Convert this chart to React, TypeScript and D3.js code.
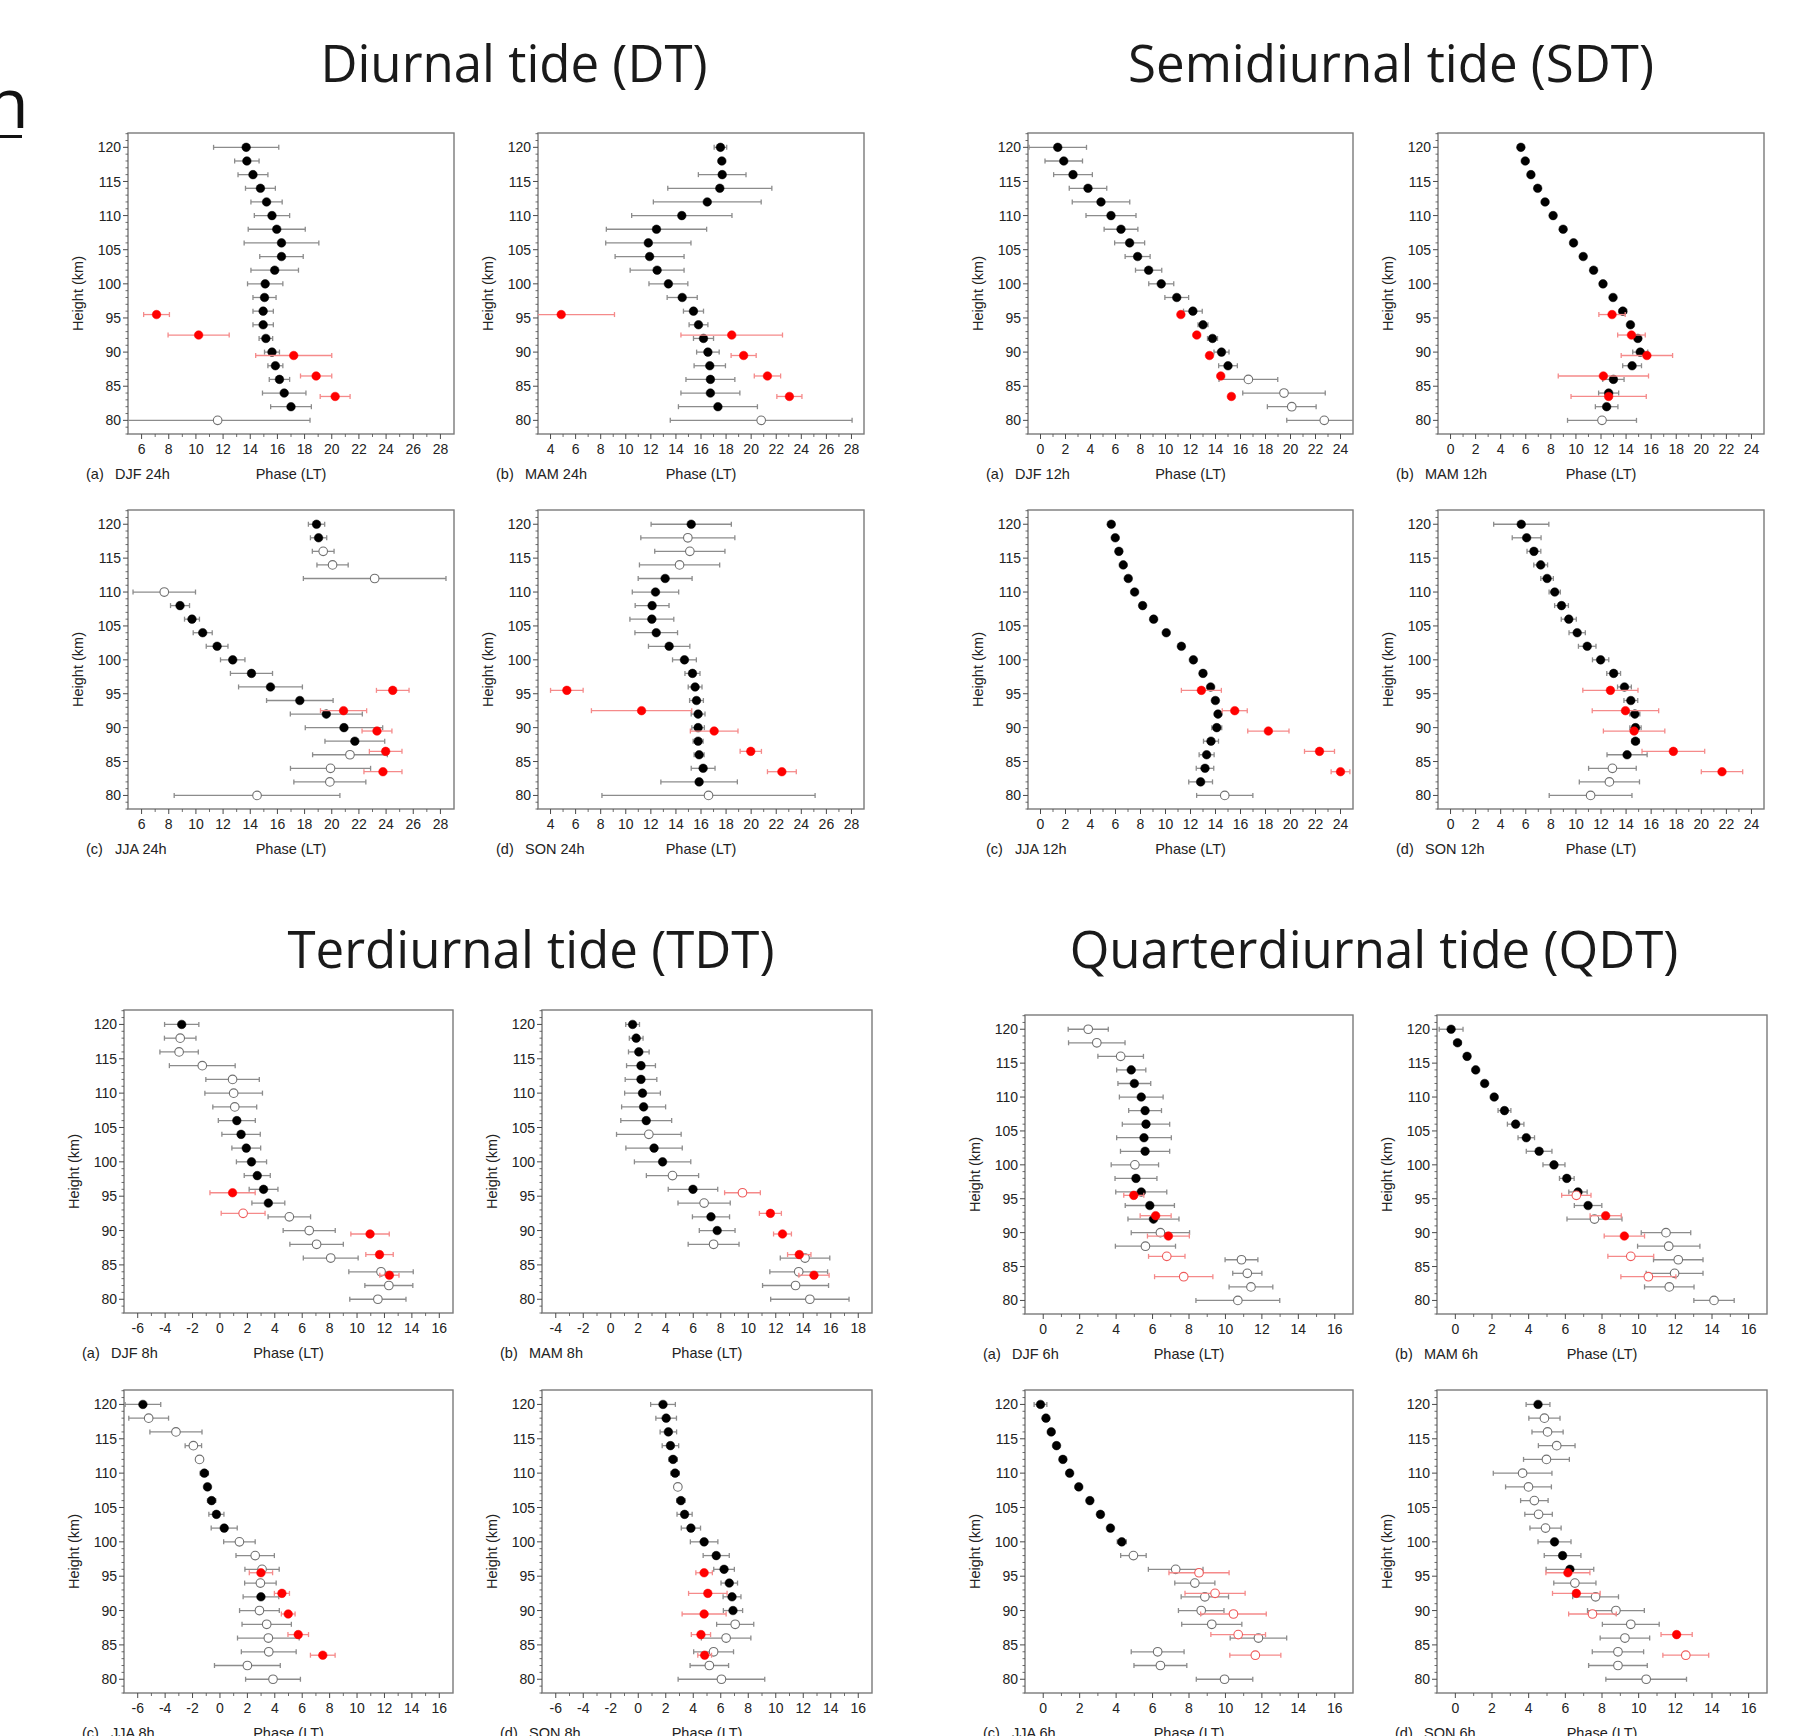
import * as d3 from 'd3';

// heights of the main profile (km) and of the red comparison profile
const heights = [120, 118, 116, 114, 112, 110, 108, 106, 104, 102, 100, 98, 96, 94, 92, 90, 88, 86, 84, 82, 80];
const redHeights = [95.5, 92.5, 89.5, 86.5, 83.5];
const yTicks = [80, 85, 90, 95, 100, 105, 110, 115, 120];

// ---- Diurnal tide (24h) ----
const dtDjfPhase = [13.7, 13.75, 14.2, 14.75, 15.2, 15.6, 15.95, 16.3, 16.3, 15.8, 15.1, 15.05, 14.95, 14.95, 15.15, 15.6, 15.85, 16.15, 16.5, 17.0, 11.6];
const dtDjfErr = [2.4, 0.9, 1.1, 1.1, 1.15, 1.3, 2.1, 2.75, 1.6, 1.75, 1.3, 0.85, 0.75, 0.75, 0.5, 0.55, 0.55, 0.75, 1.6, 1.5, 6.8];
const dtDjfOpen = [80];
const dtDjfRed = [7.1, 10.2, 17.2, 18.85, 20.25];
const dtDjfRedErr = [0.95, 2.25, 2.8, 1.15, 1.1];
const dtDjfRedOpen: number[] = [];

const dtMamPhase = [17.55, 17.66, 17.69, 17.5, 16.5, 14.47, 12.45, 11.8, 11.9, 12.5, 13.4, 14.5, 15.4, 15.8, 16.2, 16.55, 16.7, 16.75, 16.75, 17.35, 20.8];
const dtMamErr = [0.5, 0.2, 1.9, 4.15, 4.3, 4.0, 4.0, 3.4, 2.75, 2.15, 1.55, 1.2, 0.8, 0.75, 0.8, 0.9, 1.25, 1.95, 2.35, 3.15, 7.25];
const dtMamOpen = [80];
const dtMamRed = [4.85, 18.45, 19.4, 21.3, 23.05];
const dtMamRedErr = [4.25, 4.05, 1.0, 1.05, 1.0];
const dtMamRedOpen: number[] = [];

const dtJjaPhase = [18.88, 19.03, 19.37, 20.06, 23.16, 7.67, 8.83, 9.71, 10.5, 11.56, 12.71, 14.09, 15.49, 17.65, 19.6, 20.9, 21.7, 21.34, 19.91, 19.86, 14.5];
const dtJjaErr = [0.6, 0.6, 0.8, 1.15, 5.25, 2.3, 0.7, 0.55, 0.7, 0.8, 0.9, 1.55, 2.35, 2.45, 2.65, 2.85, 2.2, 2.75, 2.95, 2.65, 6.1];
const dtJjaOpen = [116, 114, 112, 110, 86, 84, 82, 80];
const dtJjaRed = [24.49, 20.87, 23.33, 23.97, 23.77];
const dtJjaRedErr = [1.2, 1.7, 1.1, 1.2, 1.4];
const dtJjaRedOpen: number[] = [];

const dtSonPhase = [15.22, 14.95, 15.11, 14.29, 13.14, 12.37, 12.1, 12.08, 12.43, 13.46, 14.68, 15.32, 15.53, 15.64, 15.77, 15.77, 15.77, 15.85, 16.17, 15.85, 16.6];
const dtSonErr = [3.2, 3.75, 2.8, 3.2, 2.15, 1.85, 1.35, 1.75, 1.7, 1.65, 0.95, 0.6, 0.55, 0.55, 0.55, 0.5, 0.4, 0.4, 0.95, 3.05, 8.5];
const dtSonOpen = [118, 116, 114, 80];
const dtSonRed = [5.3, 11.26, 17.05, 19.97, 22.45];
const dtSonRedErr = [1.3, 4.0, 1.9, 0.85, 1.15];
const dtSonRedOpen: number[] = [];

// ---- Semidiurnal tide (12h) ----
const sdtDjfPhase = [1.38, 1.86, 2.6, 3.8, 4.84, 5.64, 6.44, 7.13, 7.77, 8.65, 9.66, 10.9, 12.19, 13.0, 13.76, 14.48, 15.0, 16.63, 19.48, 20.1, 22.7];
const sdtDjfErr = [2.3, 1.5, 1.55, 1.5, 2.3, 2.0, 1.35, 1.2, 1.0, 1.05, 1.0, 0.95, 0.75, 0.4, 0.4, 0.6, 0.75, 2.35, 3.3, 1.95, 3.0];
const sdtDjfOpen = [86, 84, 82, 80];
const sdtDjfRed = [11.23, 12.5, 13.52, 14.42, 15.27];
const sdtDjfRedErr = [0, 0, 0, 0, 0];
const sdtDjfRedOpen: number[] = [];

const sdtMamPhase = [5.61, 5.96, 6.41, 6.95, 7.54, 8.18, 8.98, 9.81, 10.58, 11.41, 12.16, 12.96, 13.74, 14.35, 14.94, 15.13, 14.48, 12.99, 12.61, 12.45, 12.08];
const sdtMamErr = [0, 0, 0, 0, 0, 0, 0, 0, 0, 0, 0, 0, 0.3, 0, 0, 0.6, 0.75, 0.85, 0.8, 0.9, 2.75];
const sdtMamOpen = [80];
const sdtMamRed = [12.88, 14.43, 15.66, 12.19, 12.61];
const sdtMamRedErr = [1.05, 1.1, 2.05, 3.6, 3.0];
const sdtMamRedOpen: number[] = [];

const sdtJjaPhase = [5.66, 5.98, 6.27, 6.62, 7.02, 7.53, 8.17, 9.05, 10.06, 11.27, 12.23, 13.0, 13.61, 13.99, 14.2, 14.1, 13.64, 13.29, 13.16, 12.81, 14.74];
const sdtJjaErr = [0, 0, 0, 0, 0, 0, 0, 0, 0, 0, 0, 0, 0, 0, 0, 0.4, 0.6, 0.6, 0.7, 0.95, 2.25];
const sdtJjaOpen = [80];
const sdtJjaRed = [12.87, 15.54, 18.23, 22.32, 24.0];
const sdtJjaRedErr = [1.6, 1.0, 1.65, 1.2, 0.75];
const sdtJjaRedOpen: number[] = [];

const sdtSonPhase = [5.64, 6.07, 6.65, 7.19, 7.7, 8.31, 8.85, 9.43, 10.1, 10.9, 11.97, 13.01, 13.87, 14.38, 14.7, 14.75, 14.75, 14.08, 12.91, 12.67, 11.17];
const sdtSonErr = [2.2, 1.15, 0.55, 0.55, 0.5, 0.45, 0.55, 0.6, 0.65, 0.7, 0.65, 0.55, 0.55, 0.55, 0.4, 0.45, 0.3, 1.6, 1.9, 2.4, 3.3];
const sdtSonOpen = [84, 82, 80];
const sdtSonRed = [12.75, 13.95, 14.64, 17.77, 21.65];
const sdtSonRedErr = [2.2, 2.65, 2.45, 2.5, 1.65];
const sdtSonRedOpen: number[] = [];

// ---- Terdiurnal tide (8h) ----
const tdtDjfPhase = [-2.79, -2.9, -2.98, -1.29, 0.92, 1.0, 1.08, 1.23, 1.54, 1.92, 2.3, 2.72, 3.18, 3.53, 5.06, 6.51, 7.05, 8.08, 11.75, 12.32, 11.52];
const tdtDjfErr = [1.25, 1.15, 1.4, 2.4, 1.95, 2.1, 1.6, 1.35, 1.4, 1.05, 1.1, 0.95, 1.05, 1.2, 1.55, 1.9, 1.95, 2.0, 2.35, 1.75, 2.05];
const tdtDjfOpen = [118, 116, 114, 112, 110, 108, 92, 90, 88, 86, 84, 82, 80];
const tdtDjfRed = [0.92, 1.69, 10.95, 11.64, 12.36];
const tdtDjfRedErr = [1.65, 1.6, 1.4, 1.0, 0.7];
const tdtDjfRedOpen = [92.5];

const tdtMamPhase = [1.59, 1.85, 2.04, 2.2, 2.2, 2.31, 2.39, 2.58, 2.77, 3.15, 3.77, 4.49, 5.98, 6.79, 7.29, 7.74, 7.48, 14.13, 13.67, 13.44, 14.48];
const tdtMamErr = [0.5, 0.5, 0.75, 1.05, 1.15, 1.3, 1.6, 1.85, 2.35, 2.05, 2.05, 1.9, 1.8, 1.9, 1.35, 1.3, 1.85, 1.8, 2.1, 2.4, 2.85];
const tdtMamOpen = [104, 98, 94, 88, 86, 84, 82, 80];
const tdtMamRed = [9.58, 11.61, 12.49, 13.71, 14.78];
const tdtMamRedErr = [1.3, 0.8, 0.65, 0.85, 1.1];
const tdtMamRedOpen = [95.5];

const tdtJjaPhase = [-5.62, -5.2, -3.21, -1.94, -1.49, -1.14, -0.91, -0.61, -0.26, 0.31, 1.42, 2.57, 3.07, 2.95, 2.99, 2.88, 3.41, 3.53, 3.56, 2.0, 3.87];
const tdtJjaErr = [1.3, 1.45, 1.9, 0.6, 0.2, 0.3, 0, 0.3, 0.55, 0.95, 1.15, 1.4, 1.25, 1.15, 1.3, 1.45, 1.8, 2.25, 2.0, 2.4, 2.0];
const tdtJjaOpen = [118, 116, 114, 112, 100, 98, 96, 94, 90, 88, 86, 84, 82, 80];
const tdtJjaRed = [2.99, 4.52, 4.98, 5.71, 7.5];
const tdtJjaRedErr = [0.85, 0.55, 0.5, 0.75, 0.9];
const tdtJjaRedOpen: number[] = [];

const tdtSonPhase = [1.8, 2.03, 2.19, 2.34, 2.53, 2.68, 2.88, 3.1, 3.37, 3.83, 4.79, 5.67, 6.24, 6.62, 6.82, 6.89, 7.05, 6.39, 5.48, 5.17, 6.05];
const tdtSonErr = [0.9, 0.75, 0.6, 0.6, 0.3, 0.3, 0, 0.3, 0.55, 0.7, 1.0, 0.95, 0.75, 0.6, 0.65, 0.7, 1.35, 1.8, 1.45, 1.4, 3.15];
const tdtSonOpen = [108, 88, 86, 84, 82, 80];
const tdtSonRed = [4.79, 5.06, 4.79, 4.56, 4.83];
const tdtSonRedErr = [0.6, 1.4, 1.6, 0.7, 0.5];
const tdtSonRedOpen: number[] = [];

// ---- Quarterdiurnal tide (6h) ----
const qdtDjfPhase = [2.47, 2.94, 4.25, 4.83, 5.0, 5.38, 5.59, 5.64, 5.53, 5.59, 5.03, 5.09, 5.38, 5.85, 6.05, 6.43, 5.61, 10.88, 11.2, 11.4, 10.68];
const qdtDjfErr = [1.1, 1.55, 1.25, 0.8, 0.9, 1.2, 0.9, 1.3, 1.5, 1.35, 1.3, 1.15, 1.4, 1.35, 1.4, 1.6, 1.65, 0.9, 0.8, 1.2, 2.3];
const qdtDjfOpen = [120, 118, 116, 100, 90, 88, 86, 84, 82, 80];
const qdtDjfRed = [4.97, 6.17, 6.87, 6.78, 7.71];
const qdtDjfRedErr = [0.55, 0.85, 1.15, 1.0, 1.6];
const qdtDjfRedOpen = [86.5, 83.5];

const qdtMamPhase = [-0.23, 0.12, 0.64, 1.11, 1.6, 2.12, 2.68, 3.29, 3.87, 4.57, 5.38, 6.08, 6.69, 7.24, 7.59, 11.49, 11.64, 12.16, 11.96, 11.67, 14.11];
const qdtMamErr = [0.65, 0.2, 0, 0, 0, 0, 0.35, 0.45, 0.45, 0.7, 0.6, 0.4, 0.5, 0.75, 1.5, 1.35, 1.7, 1.35, 1.55, 1.35, 1.1];
const qdtMamOpen = [92, 90, 88, 86, 84, 82, 80];
const qdtMamRed = [6.6, 8.2, 9.22, 9.57, 10.53];
const qdtMamRedErr = [0.8, 0.85, 1.1, 1.25, 1.5];
const qdtMamRedOpen = [95.5, 86.5, 83.5];

const qdtJjaPhase = [-0.15, 0.15, 0.44, 0.73, 1.08, 1.45, 1.95, 2.56, 3.14, 3.69, 4.31, 4.95, 7.27, 8.32, 8.87, 8.67, 9.25, 11.81, 6.28, 6.43, 9.95];
const qdtJjaErr = [0.35, 0, 0, 0, 0, 0, 0, 0, 0, 0, 0.25, 0.7, 1.5, 1.1, 1.3, 1.25, 1.65, 1.55, 1.45, 1.45, 1.55];
const qdtJjaOpen = [98, 96, 94, 92, 90, 88, 86, 84, 82, 80];
const qdtJjaRed = [8.55, 9.43, 10.44, 10.7, 11.64];
const qdtJjaRedErr = [1.65, 1.65, 1.8, 1.5, 1.4];
const qdtJjaRedOpen = [95.5, 92.5, 89.5, 86.5, 83.5];

const qdtSonPhase = [4.51, 4.86, 5.03, 5.53, 4.97, 3.67, 3.99, 4.31, 4.54, 4.92, 5.41, 5.85, 6.25, 6.52, 7.65, 8.76, 9.57, 9.25, 8.87, 8.87, 10.41];
const qdtSonErr = [0.65, 0.85, 0.85, 1.0, 1.25, 1.6, 1.25, 0.75, 0.75, 0.85, 0.9, 1.0, 1.3, 1.15, 1.25, 1.55, 1.55, 1.35, 1.4, 1.6, 2.2];
const qdtSonOpen = [118, 116, 114, 112, 110, 108, 106, 104, 102, 94, 92, 90, 88, 86, 84, 82, 80];
const qdtSonRed = [6.14, 6.6, 7.48, 12.07, 12.57];
const qdtSonRedErr = [1.2, 1.3, 1.3, 0.85, 1.25];
const qdtSonRedOpen = [89.5, 83.5];

const titles = [
  { text: 'Diurnal tide (DT)', x: 514, y: 82 },
  { text: 'Semidiurnal tide (SDT)', x: 1391, y: 82 },
  { text: 'Terdiurnal tide (TDT)', x: 531, y: 968 },
  { text: 'Quarterdiurnal tide (QDT)', x: 1374, y: 968 },
];

// frame = [left, right, top, bottom], xr = [domain min, domain max, first label, last label]
const panels = [
  { tag: '(a)', name: 'DJF 24h', frame: [128, 454, 133, 434], xr: [5, 29, 6, 28], ph: dtDjfPhase, er: dtDjfErr, op: dtDjfOpen, rp: dtDjfRed, re: dtDjfRedErr, ro: dtDjfRedOpen },
  { tag: '(b)', name: 'MAM 24h', frame: [538, 864, 133, 434], xr: [3, 29, 4, 28], ph: dtMamPhase, er: dtMamErr, op: dtMamOpen, rp: dtMamRed, re: dtMamRedErr, ro: dtMamRedOpen },
  { tag: '(c)', name: 'JJA 24h', frame: [128, 454, 510, 809], xr: [5, 29, 6, 28], ph: dtJjaPhase, er: dtJjaErr, op: dtJjaOpen, rp: dtJjaRed, re: dtJjaRedErr, ro: dtJjaRedOpen },
  { tag: '(d)', name: 'SON 24h', frame: [538, 864, 510, 809], xr: [3, 29, 4, 28], ph: dtSonPhase, er: dtSonErr, op: dtSonOpen, rp: dtSonRed, re: dtSonRedErr, ro: dtSonRedOpen },
  { tag: '(a)', name: 'DJF 12h', frame: [1028, 1353, 133, 434], xr: [-1, 25, 0, 24], ph: sdtDjfPhase, er: sdtDjfErr, op: sdtDjfOpen, rp: sdtDjfRed, re: sdtDjfRedErr, ro: sdtDjfRedOpen },
  { tag: '(b)', name: 'MAM 12h', frame: [1438, 1764, 133, 434], xr: [-1, 25, 0, 24], ph: sdtMamPhase, er: sdtMamErr, op: sdtMamOpen, rp: sdtMamRed, re: sdtMamRedErr, ro: sdtMamRedOpen },
  { tag: '(c)', name: 'JJA 12h', frame: [1028, 1353, 510, 809], xr: [-1, 25, 0, 24], ph: sdtJjaPhase, er: sdtJjaErr, op: sdtJjaOpen, rp: sdtJjaRed, re: sdtJjaRedErr, ro: sdtJjaRedOpen },
  { tag: '(d)', name: 'SON 12h', frame: [1438, 1764, 510, 809], xr: [-1, 25, 0, 24], ph: sdtSonPhase, er: sdtSonErr, op: sdtSonOpen, rp: sdtSonRed, re: sdtSonRedErr, ro: sdtSonRedOpen },
  { tag: '(a)', name: 'DJF 8h', frame: [124, 453, 1010, 1313], xr: [-7, 17, -6, 16], ph: tdtDjfPhase, er: tdtDjfErr, op: tdtDjfOpen, rp: tdtDjfRed, re: tdtDjfRedErr, ro: tdtDjfRedOpen },
  { tag: '(b)', name: 'MAM 8h', frame: [542, 872, 1010, 1313], xr: [-5, 19, -4, 18], ph: tdtMamPhase, er: tdtMamErr, op: tdtMamOpen, rp: tdtMamRed, re: tdtMamRedErr, ro: tdtMamRedOpen },
  { tag: '(c)', name: 'JJA 8h', frame: [124, 453, 1390, 1693], xr: [-7, 17, -6, 16], ph: tdtJjaPhase, er: tdtJjaErr, op: tdtJjaOpen, rp: tdtJjaRed, re: tdtJjaRedErr, ro: tdtJjaRedOpen },
  { tag: '(d)', name: 'SON 8h', frame: [542, 872, 1390, 1693], xr: [-7, 17, -6, 16], ph: tdtSonPhase, er: tdtSonErr, op: tdtSonOpen, rp: tdtSonRed, re: tdtSonRedErr, ro: tdtSonRedOpen },
  { tag: '(a)', name: 'DJF 6h', frame: [1025, 1353, 1015, 1314], xr: [-1, 17, 0, 16], ph: qdtDjfPhase, er: qdtDjfErr, op: qdtDjfOpen, rp: qdtDjfRed, re: qdtDjfRedErr, ro: qdtDjfRedOpen },
  { tag: '(b)', name: 'MAM 6h', frame: [1437, 1767, 1015, 1314], xr: [-1, 17, 0, 16], ph: qdtMamPhase, er: qdtMamErr, op: qdtMamOpen, rp: qdtMamRed, re: qdtMamRedErr, ro: qdtMamRedOpen },
  { tag: '(c)', name: 'JJA 6h', frame: [1025, 1353, 1390, 1693], xr: [-1, 17, 0, 16], ph: qdtJjaPhase, er: qdtJjaErr, op: qdtJjaOpen, rp: qdtJjaRed, re: qdtJjaRedErr, ro: qdtJjaRedOpen },
  { tag: '(d)', name: 'SON 6h', frame: [1437, 1767, 1390, 1693], xr: [-1, 17, 0, 16], ph: qdtSonPhase, er: qdtSonErr, op: qdtSonOpen, rp: qdtSonRed, re: qdtSonRedErr, ro: qdtSonRedOpen },
];

const FONT = '"Liberation Sans", Arial, sans-serif';

function ErrPoints({ x, y, hs, ph, er, op, red }: any) {
  const barColor = red ? '#f58a8a' : '#8c8c8c';
  const [d0, d1] = x.domain();
  return (
    <g>
      {hs.map((h: number, i: number) => {
        const e = er[i];
        if (!e) return null;
        const lo = ph[i] - e, hi = ph[i] + e;
        const yy = y(h);
        return (
          <g key={'e' + i} stroke={barColor} strokeWidth={1.3}>
            <line x1={x(lo)} x2={x(hi)} y1={yy} y2={yy} />
            {lo >= d0 && <line x1={x(lo)} x2={x(lo)} y1={yy - 2.5} y2={yy + 2.5} />}
            {hi <= d1 && <line x1={x(hi)} x2={x(hi)} y1={yy - 2.5} y2={yy + 2.5} />}
          </g>
        );
      })}
      {hs.map((h: number, i: number) => {
        const open = op.includes(h);
        const fill = open ? '#fff' : red ? '#f00' : '#000';
        const stroke = open ? (red ? '#ef5a5a' : '#707070') : fill;
        return <circle key={'c' + i} cx={x(ph[i])} cy={y(h)} r={4.3} fill={fill} stroke={stroke} strokeWidth={open ? 1.1 : 0.5} />;
      })}
    </g>
  );
}

function Panel({ p }: any) {
  const [x0, x1, y0, y1] = p.frame;
  const [dMin, dMax, tFirst, tLast] = p.xr;
  const x = d3.scaleLinear().domain([dMin, dMax]).range([x0, x1]).clamp(true);
  const y = d3.scaleLinear().domain([78, 122.1]).range([y1, y0]);
  const majorX = d3.range(tFirst, tLast + 0.01, 2);
  const minorX = d3.range(dMin + 1, dMax).filter((v) => !majorX.includes(v));
  const minorY = d3.range(78, 123).filter((v) => !yTicks.includes(v));
  const axisColor = '#4a4a4a';
  return (
    <g>
      <rect x={x0} y={y0} width={x1 - x0} height={y1 - y0} fill="none" stroke="#7a7a7a" strokeWidth={1.4} />
      {/* y axis ticks */}
      {yTicks.map((t) => (
        <g key={'yt' + t}>
          <line x1={x0 - 5} x2={x0} y1={y(t)} y2={y(t)} stroke={axisColor} strokeWidth={1} />
          <text x={x0 - 7} y={y(t)} dy="0.36em" textAnchor="end" fontSize={14} fontFamily={FONT} fill="#222">{t}</text>
        </g>
      ))}
      {minorY.map((t) => (
        <line key={'ym' + t} x1={x0 - 2.5} x2={x0} y1={y(t)} y2={y(t)} stroke={axisColor} strokeWidth={0.8} />
      ))}
      {/* x axis ticks */}
      {majorX.map((t) => (
        <g key={'xt' + t}>
          <line x1={x(t)} x2={x(t)} y1={y1} y2={y1 + 5} stroke={axisColor} strokeWidth={1} />
          <text x={x(t)} y={y1 + 20} textAnchor="middle" fontSize={14} fontFamily={FONT} fill="#222">{t}</text>
        </g>
      ))}
      {minorX.map((t) => (
        <line key={'xm' + t} x1={x(t)} x2={x(t)} y1={y1} y2={y1 + 3} stroke={axisColor} strokeWidth={0.8} />
      ))}
      <text transform={`translate(${x0 - 50},${(y0 + y1) / 2 + 10}) rotate(-90)`} textAnchor="middle" dy="0.35em" fontSize={14.5} fontFamily={FONT} fill="#222">Height (km)</text>
      <text x={x0 - 42} y={y1 + 45} fontSize={14.5} fontFamily={FONT} fill="#222">{p.tag}</text>
      <text x={x0 - 13} y={y1 + 45} fontSize={14.5} fontFamily={FONT} fill="#222">{p.name}</text>
      <text x={(x0 + x1) / 2} y={y1 + 45} textAnchor="middle" fontSize={14.5} fontFamily={FONT} fill="#222">Phase (LT)</text>
      <ErrPoints x={x} y={y} hs={heights} ph={p.ph} er={p.er} op={p.op} red={false} />
      <ErrPoints x={x} y={y} hs={redHeights} ph={p.rp} er={p.re} op={p.ro} red={true} />
    </g>
  );
}

export default function App() {
  return (
    <svg width={1803} height={1736} style={{ position: 'absolute', left: 0, top: 0, background: '#fff' }}>
      <rect width={1803} height={1736} fill="#fff" />
      <text x={-14} y={128} fontSize={70} fontFamily='"Open Sans", sans-serif' fill="#111">n</text>
      <rect x={0} y={135} width={22} height={3} fill="#111" />
      {titles.map((t) => (
        <text key={t.text} x={t.x} y={t.y} textAnchor="middle" fontSize={51} fontFamily='"Open Sans", sans-serif' fill="#1a1a1a">{t.text}</text>
      ))}
      {panels.map((p, i) => <Panel key={i} p={p} />)}
    </svg>
  );
}
